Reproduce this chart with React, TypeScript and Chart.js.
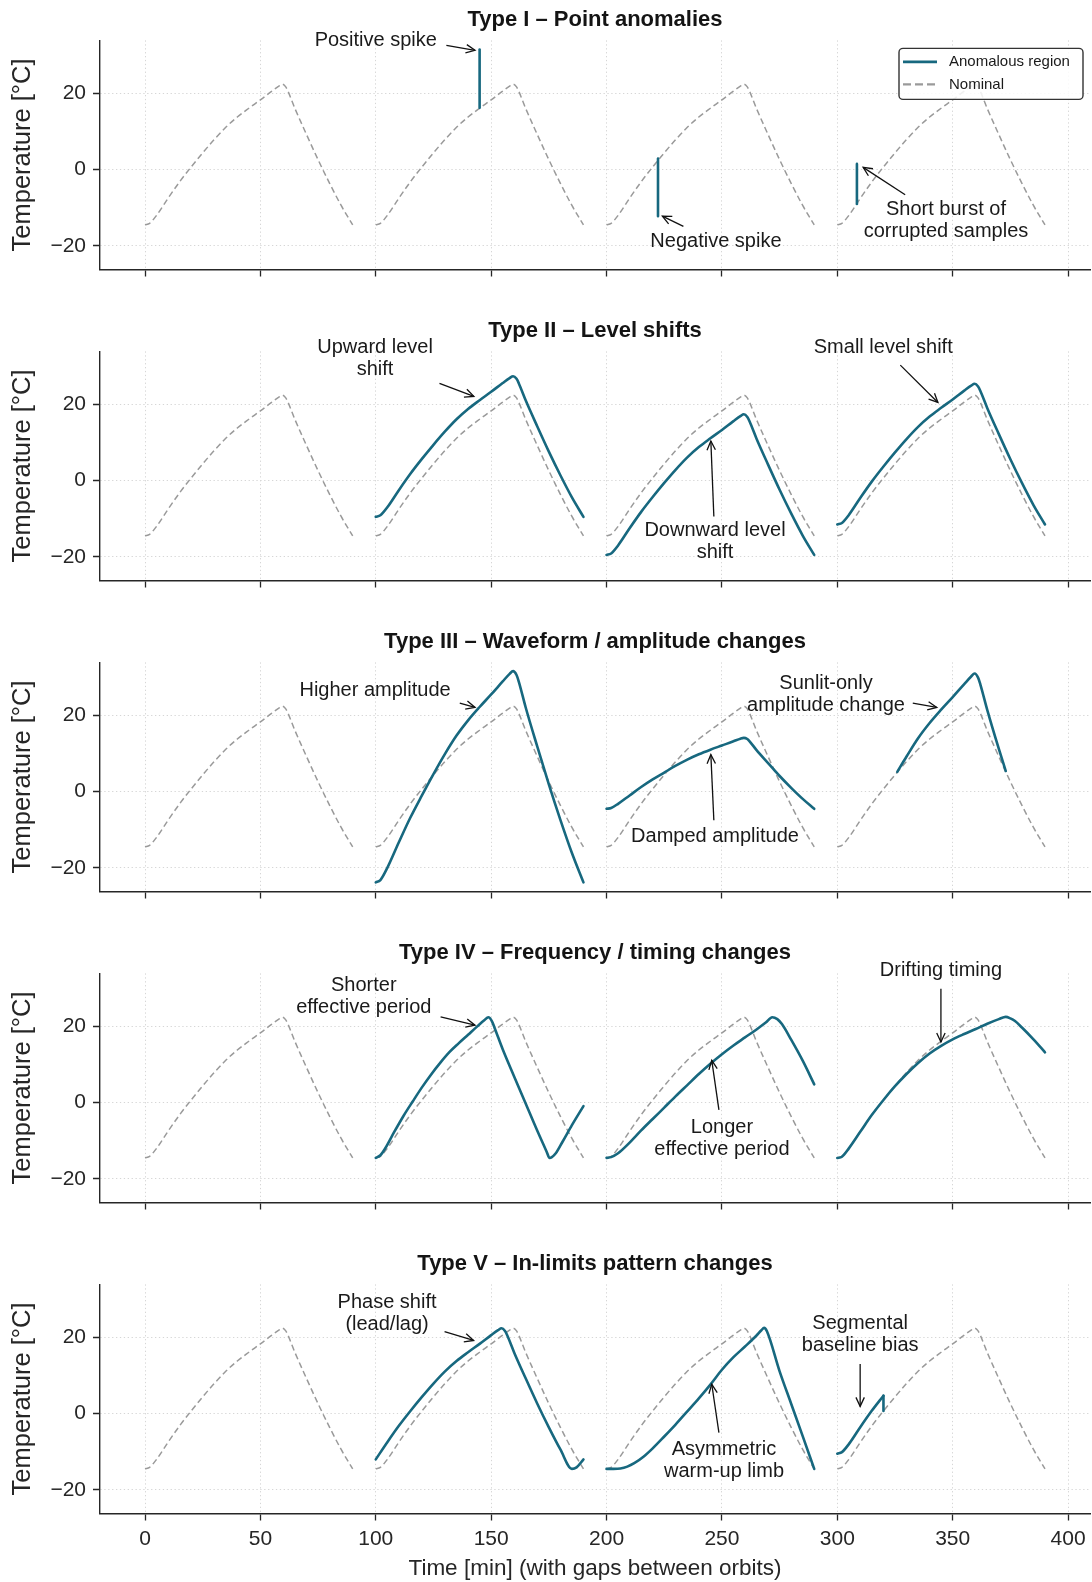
import React, { useEffect, useRef } from 'react';
import { Chart, registerables } from 'chart.js';

Chart.register(...registerables);

// ---------------- data ----------------
const X_TICKS = [0, 50, 100, 150, 200, 250, 300, 350, 400];
const Y_TICKS = [-20, 0, 20];
const X_RANGE = [-19.5, 409.5];
const Y_RANGE = [-26.2, 33.9];

const ORBIT_STARTS = [0, 100, 200, 300];
// one nominal orbit (minutes since orbit start, °C)
const NOMINAL_T = [0, 2, 5, 10, 15, 20, 25, 30, 35, 40, 45, 50, 55, 58, 59.5, 61, 62, 65, 70, 75, 80, 85, 90];
const NOMINAL_V = [-14.5, -14.1, -12.0, -7.5, -3.2, 0.7, 4.4, 7.9, 11.1, 13.8, 16.1, 18.3, 20.6, 21.9, 22.4, 21.7, 20.5, 16.0, 9.2, 2.6, -3.6, -9.4, -14.5];

// Type I – point anomalies
const POS_SPIKE_T = [145, 145];
const POS_SPIKE_V = [16.2, 31.5];
const NEG_SPIKE_T = [222.3, 222.3];
const NEG_SPIKE_V = [2.9, -12.2];
const BURST_T = [308.5, 308.5];
const BURST_V = [-9.0, 1.5];

// Type II – level shifts (sampled on NOMINAL_T within the orbit)
const LEVEL_UP_V = [-9.5, -9.1, -7.0, -2.5, 1.8, 5.7, 9.4, 12.9, 16.1, 18.8, 21.1, 23.3, 25.6, 26.9, 27.4, 26.7, 25.5, 21.0, 14.2, 7.6, 1.4, -4.4, -9.5];
const LEVEL_DOWN_V = [-19.5, -19.1, -17.0, -12.5, -8.2, -4.3, -0.6, 2.9, 6.1, 8.8, 11.1, 13.3, 15.6, 16.9, 17.4, 16.7, 15.5, 11.0, 4.2, -2.4, -8.6, -14.4, -19.5];
const LEVEL_SMALL_V = [-11.5, -11.1, -9.0, -4.5, -0.2, 3.7, 7.4, 10.9, 14.1, 16.8, 19.1, 21.3, 23.6, 24.9, 25.4, 24.7, 23.5, 19.0, 12.2, 5.6, -0.6, -6.4, -11.5];

// Type III – amplitude changes
const HIGH_AMP_V = [-23.8, -23.2, -20.0, -13.3, -6.8, -1.0, 4.6, 9.9, 14.7, 18.7, 22.2, 25.5, 28.9, 30.9, 31.6, 30.6, 28.8, 22.0, 11.8, 1.9, -7.4, -16.1, -23.8];
const DAMPED_V = [-4.5, -4.3, -3.2, -1.0, 1.2, 3.2, 5.0, 6.8, 8.4, 9.8, 11.0, 12.1, 13.2, 13.9, 14.1, 13.8, 13.2, 10.9, 7.5, 4.1, 1.0, -1.9, -4.5];
const SUNLIT_T = [326, 330, 335, 340, 345, 350, 355, 358, 359.5, 361, 362, 365, 370, 373];
const SUNLIT_V = [5.2, 9.2, 14.0, 18.0, 21.5, 24.8, 28.2, 30.2, 31.0, 29.9, 28.1, 21.4, 11.2, 5.4];

// Type IV – frequency / timing
const SHORT_T = [100, 102, 104, 108, 112, 116, 120, 124, 128, 132, 136, 140, 144, 147, 148.8, 150.3, 151.5, 155, 160, 165, 170, 174, 175.3, 176.3, 178, 181, 185, 190];
const SHORT_V = [-14.5, -13.8, -12.1, -7.7, -3.5, 0.3, 4.0, 7.4, 10.5, 13.3, 15.6, 17.8, 20.0, 21.6, 22.4, 21.4, 19.6, 14.0, 6.8, -0.3, -7.4, -12.8, -14.5, -14.3, -13.3, -10.2, -5.9, -0.9];
const LONG_T = [200, 202, 205, 210, 215, 220, 225, 230, 235, 240, 245, 250, 255, 260, 265, 269, 271.8, 274, 276, 280, 285, 290];
const LONG_V = [-14.5, -14.3, -13.3, -10.5, -7.3, -4.3, -1.3, 1.7, 4.6, 7.5, 10.2, 12.7, 15.0, 17.1, 19.2, 21.0, 22.4, 21.9, 20.6, 16.5, 11.0, 4.8];
const DRIFT_T = [300, 302, 305, 310, 315, 320, 325, 330, 335, 340, 345, 350, 355, 360, 365, 370, 373, 375, 377, 380, 385, 390];
const DRIFT_V = [-14.5, -14.2, -12.0, -7.6, -3.2, 0.7, 4.3, 7.5, 10.4, 12.9, 14.9, 16.6, 18.0, 19.3, 20.7, 21.9, 22.5, 22.1, 21.4, 19.7, 16.6, 13.2];

// Type V – in-limits pattern changes
const PHASE_T = [100, 105, 110, 115, 120, 125, 130, 135, 140, 145, 150, 153, 154.5, 156, 157, 160, 165, 170, 175, 180, 185, 187, 190];
const PHASE_V = [-12.0, -7.5, -3.2, 0.7, 4.4, 7.9, 11.1, 13.8, 16.1, 18.3, 20.6, 21.9, 22.4, 21.7, 20.5, 16.0, 9.2, 2.6, -3.6, -9.4, -14.5, -14.1, -12.0];
const ASYM_T = [200, 203, 206, 209, 212, 216, 220, 225, 230, 235, 240, 245, 250, 255, 260, 265, 267, 268.3, 269.5, 275, 280, 285, 290];
const ASYM_V = [-14.5, -14.5, -14.4, -13.9, -13.0, -11.3, -9.1, -6.0, -2.8, 0.6, 4.0, 7.6, 11.5, 14.8, 17.6, 20.5, 21.8, 22.5, 21.6, 11.1, 2.6, -5.9, -14.5];
const BIAS_T = [300, 302, 305, 310, 315, 320];
const BIAS_V = [-10.5, -10.1, -8.0, -3.5, 0.8, 4.7];
const BIAS_DROP_T = [320, 320];
const BIAS_DROP_V = [4.7, 0.7];

const PANEL_TITLES = [
  'Type I \u2013 Point anomalies',
  'Type II \u2013 Level shifts',
  'Type III \u2013 Waveform / amplitude changes',
  'Type IV \u2013 Frequency / timing changes',
  'Type V \u2013 In-limits pattern changes',
];
const LEGEND_LABELS = ['Anomalous region', 'Nominal'];
const Y_LABEL = 'Temperature [\u00b0C]';
const X_LABEL = 'Time [min] (with gaps between orbits)';

// ---------------- series assembly ----------------
type Seg = { t: number[]; v: number[]; smooth: boolean };
const inOrbit = (start: number) => NOMINAL_T.map((t) => t + start);

const PANEL_SEGMENTS: Seg[][] = [
  [
    { t: POS_SPIKE_T, v: POS_SPIKE_V, smooth: false },
    { t: NEG_SPIKE_T, v: NEG_SPIKE_V, smooth: false },
    { t: BURST_T, v: BURST_V, smooth: false },
  ],
  [
    { t: inOrbit(ORBIT_STARTS[1]), v: LEVEL_UP_V, smooth: true },
    { t: inOrbit(ORBIT_STARTS[2]), v: LEVEL_DOWN_V, smooth: true },
    { t: inOrbit(ORBIT_STARTS[3]), v: LEVEL_SMALL_V, smooth: true },
  ],
  [
    { t: inOrbit(ORBIT_STARTS[1]), v: HIGH_AMP_V, smooth: true },
    { t: inOrbit(ORBIT_STARTS[2]), v: DAMPED_V, smooth: true },
    { t: SUNLIT_T, v: SUNLIT_V, smooth: true },
  ],
  [
    { t: SHORT_T, v: SHORT_V, smooth: true },
    { t: LONG_T, v: LONG_V, smooth: true },
    { t: DRIFT_T, v: DRIFT_V, smooth: true },
  ],
  [
    { t: PHASE_T, v: PHASE_V, smooth: true },
    { t: ASYM_T, v: ASYM_V, smooth: true },
    { t: BIAS_T, v: BIAS_V, smooth: true },
    { t: BIAS_DROP_T, v: BIAS_DROP_V, smooth: false },
  ],
];

// annotations in data coordinates: text centre, arrow tail, arrow tip
type Note = { label: string; at: [number, number]; tail: [number, number]; tip: [number, number] };
const PANEL_NOTES: Note[][] = [
  [
    { label: 'Positive spike', at: [100.0, 33.9], tail: [130.6, 32.6], tip: [143.0, 31.3] },
    { label: 'Negative spike', at: [247.4, -18.8], tail: [233.3, -14.9], tip: [224.2, -12.2] },
    { label: 'Short burst of\ncorrupted samples', at: [347.1, -13.4], tail: [329.4, -6.6], tip: [311.2, 0.6] },
  ],
  [
    { label: 'Upward level\nshift', at: [99.7, 32.0], tail: [127.6, 25.5], tip: [142.5, 22.1] },
    { label: 'Downward level\nshift', at: [247.0, -16.0], tail: [246.5, -9.4], tip: [245.2, 10.4] },
    { label: 'Small level shift', at: [319.9, 35.0], tail: [327.3, 30.3], tip: [343.6, 20.5] },
  ],
  [
    { label: 'Higher amplitude', at: [99.7, 26.6], tail: [136.4, 23.2], tip: [143.0, 22.1] },
    { label: 'Damped amplitude', at: [247.0, -11.8], tail: [246.5, -7.5], tip: [245.2, 9.7] },
    { label: 'Sunlit-only\namplitude change', at: [295.1, 25.6], tail: [332.7, 23.2], tip: [343.1, 22.1] },
  ],
  [
    { label: 'Shorter\neffective period', at: [94.8, 27.9], tail: [128.1, 22.5], tip: [143.0, 20.3] },
    { label: 'Longer\neffective period', at: [250.0, -9.3], tail: [248.7, -1.9], tip: [245.6, 11.1] },
    { label: 'Drifting timing', at: [344.9, 34.6], tail: [344.9, 29.9], tip: [344.9, 15.9] },
  ],
  [
    { label: 'Phase shift\n(lead/lag)', at: [104.9, 26.2], tail: [129.8, 21.5], tip: [142.4, 19.2] },
    { label: 'Asymmetric\nwarm-up limb', at: [250.9, -12.4], tail: [248.7, -5.0], tip: [245.6, 7.7] },
    { label: 'Segmental\nbaseline bias', at: [309.9, 20.7], tail: [309.9, 13.0], tip: [309.9, 1.9] },
  ],
];

// ---------------- styling ----------------
const FONT = '"Liberation Sans", Arial, Helvetica, sans-serif';
const TEAL = '#17687f';
const GREY = '#9a9a9a';
const INK = '#262626';
const GRID = '#d6d6d6';
const PANEL_TOPS = [0, 311, 622, 933, 1244];
const PANEL_HEIGHTS = [311, 311, 311, 311, 338];

const fmtTick = (v: number | string) => {
  const n = Number(v);
  return n < 0 ? '\u2212' + Math.abs(n) : String(n);
};

function drawArrow(ctx: CanvasRenderingContext2D, x1: number, y1: number, x2: number, y2: number) {
  const ang = Math.atan2(y2 - y1, x2 - x1);
  const hl = 9;
  const hw = 4.2;
  ctx.beginPath();
  ctx.moveTo(x1, y1);
  ctx.lineTo(x2, y2);
  ctx.stroke();
  const bx = x2 - hl * Math.cos(ang);
  const by = y2 - hl * Math.sin(ang);
  const nx = -Math.sin(ang);
  const ny = Math.cos(ang);
  ctx.beginPath();
  ctx.moveTo(bx + nx * hw, by + ny * hw);
  ctx.lineTo(x2, y2);
  ctx.lineTo(bx - nx * hw, by - ny * hw);
  ctx.stroke();
}

const overlayPlugin = {
  id: 'overlay',
  afterDraw(chart: any, _args: any, opts: any) {
    const ctx: CanvasRenderingContext2D = chart.ctx;
    const xs = chart.scales.x;
    const ys = chart.scales.y;
    const panel = opts.panel as number;
    ctx.save();
    ctx.font = `20px ${FONT}`;
    ctx.fillStyle = '#1a1a1a';
    ctx.strokeStyle = '#111';
    ctx.lineWidth = 1.3;
    ctx.textAlign = 'center';
    ctx.textBaseline = 'middle';
    ctx.lineCap = 'butt';
    PANEL_NOTES[panel].forEach((n) => {
      const tx = xs.getPixelForValue(n.at[0]);
      const ty = ys.getPixelForValue(n.at[1]);
      const lines = n.label.split('\n');
      lines.forEach((ln, i) => ctx.fillText(ln, tx, ty + (i - (lines.length - 1) / 2) * 22));
      drawArrow(
        ctx,
        xs.getPixelForValue(n.tail[0]),
        ys.getPixelForValue(n.tail[1]),
        xs.getPixelForValue(n.tip[0]),
        ys.getPixelForValue(n.tip[1])
      );
    });

    if (panel === 0) {
      const ca = chart.chartArea;
      const bw = 184;
      const bh = 51;
      const bx = ca.right - 7 - bw;
      const by = ca.top + 8;
      ctx.beginPath();
      ctx.roundRect(bx, by, bw, bh, 4);
      ctx.fillStyle = 'rgba(255,255,255,0.85)';
      ctx.fill();
      ctx.strokeStyle = '#333';
      ctx.lineWidth = 1.4;
      ctx.stroke();
      const rows = [by + 13.5, by + 36];
      ctx.strokeStyle = TEAL;
      ctx.lineWidth = 2.6;
      ctx.beginPath();
      ctx.moveTo(bx + 4, rows[0]);
      ctx.lineTo(bx + 38, rows[0]);
      ctx.stroke();
      ctx.strokeStyle = GREY;
      ctx.lineWidth = 2.2;
      ctx.setLineDash([8, 4]);
      ctx.beginPath();
      ctx.moveTo(bx + 4, rows[1]);
      ctx.lineTo(bx + 38, rows[1]);
      ctx.stroke();
      ctx.setLineDash([]);
      ctx.fillStyle = '#1a1a1a';
      ctx.font = `15px ${FONT}`;
      ctx.textAlign = 'left';
      ctx.fillText(LEGEND_LABELS[0], bx + 50, rows[0]);
      ctx.fillText(LEGEND_LABELS[1], bx + 50, rows[1]);
    }
    ctx.restore();
  },
};

function nominalPoints() {
  const out: { x: number; y: number | null }[] = [];
  ORBIT_STARTS.forEach((s) => {
    NOMINAL_T.forEach((t, i) => out.push({ x: s + t, y: NOMINAL_V[i] }));
    out.push({ x: s + 95, y: null });
  });
  return out;
}

function Panel({ index }: { index: number }) {
  const ref = useRef<HTMLCanvasElement>(null);
  useEffect(() => {
    if (!ref.current) return;
    const isLast = index === 4;
    const datasets: any[] = [
      {
        data: nominalPoints(),
        borderColor: GREY,
        borderWidth: 1.5,
        borderDash: [6, 3.5],
        borderCapStyle: 'butt',
        pointRadius: 0,
        cubicInterpolationMode: 'monotone',
        spanGaps: false,
        fill: false,
        order: 2,
      },
    ];
    PANEL_SEGMENTS[index].forEach((seg) => {
      datasets.push({
        data: seg.t.map((x, i) => ({ x, y: seg.v[i] })),
        borderColor: TEAL,
        borderWidth: 2.6,
        borderCapStyle: 'round',
        borderJoinStyle: 'round',
        pointRadius: 0,
        cubicInterpolationMode: seg.smooth ? 'monotone' : 'default',
        tension: 0,
        fill: false,
        order: 1,
      });
    });

    const gridCfg = {
      color: GRID,
      lineWidth: 1,
      drawTicks: true,
      tickLength: 7,
      tickColor: INK,
      tickWidth: 1.3,
      tickBorderDash: [1, 0],
    };
    const borderCfg = { display: true, color: INK, width: 1.4, dash: [1.3, 2.6] };

    const chart = new Chart(ref.current, {
      type: 'line',
      data: { datasets },
      plugins: [overlayPlugin as any],
      options: {
        responsive: false,
        animation: false,
        devicePixelRatio: 1,
        layout: { padding: { left: 0, right: 2, top: 0, bottom: 0 } },
        events: [],
        plugins: {
          legend: { display: false },
          tooltip: { enabled: false },
          title: {
            display: true,
            text: PANEL_TITLES[index],
            fullSize: false,
            color: '#141414',
            font: { family: FONT, size: 22, weight: 'bold', lineHeight: 1.2 },
            padding: { top: 7, bottom: 7 },
          },
          overlay: { panel: index },
        } as any,
        scales: {
          x: {
            type: 'linear',
            min: X_RANGE[0],
            max: X_RANGE[1],
            afterBuildTicks: (s: any) => {
              s.ticks = X_TICKS.map((v) => ({ value: v }));
            },
            afterFit: (s: any) => {
              s.height = isLast ? 68.5 : 41.5;
            },
            ticks: {
              display: isLast,
              autoSkip: false,
              maxRotation: 0,
              padding: 5.9,
              color: INK,
              font: { family: FONT, size: 21, lineHeight: 1.2 },
              callback: (v: any) => fmtTick(v),
            },
            grid: gridCfg,
            border: borderCfg,
            title: {
              display: isLast,
              text: X_LABEL,
              color: INK,
              font: { family: FONT, size: 22.5, lineHeight: 1.2 },
              padding: { top: 0, bottom: 0 },
            },
          },
          y: {
            type: 'linear',
            min: Y_RANGE[0],
            max: Y_RANGE[1],
            afterBuildTicks: (s: any) => {
              s.ticks = Y_TICKS.map((v) => ({ value: v }));
            },
            afterFit: (s: any) => {
              s.width = 100;
            },
            ticks: {
              padding: 7,
              color: INK,
              font: { family: FONT, size: 21, lineHeight: 1.2 },
              callback: (v: any) => fmtTick(v),
            },
            grid: gridCfg,
            border: borderCfg,
            title: {
              display: true,
              text: Y_LABEL,
              color: INK,
              font: { family: FONT, size: 25.5, lineHeight: 1.2 },
              padding: { top: 7.5, bottom: 0 },
            },
          },
        } as any,
      },
    } as any);
    return () => chart.destroy();
  }, [index]);

  return (
    <canvas
      ref={ref}
      width={1092}
      height={PANEL_HEIGHTS[index]}
      style={{ position: 'absolute', left: 0, top: PANEL_TOPS[index], display: 'block' }}
    />
  );
}

export default function App() {
  return (
    <div style={{ position: 'absolute', left: 0, top: 0, width: 1092, height: 1582, background: '#ffffff', overflow: 'hidden' }}>
      {PANEL_TITLES.map((_, i) => (
        <Panel key={i} index={i} />
      ))}
    </div>
  );
}
